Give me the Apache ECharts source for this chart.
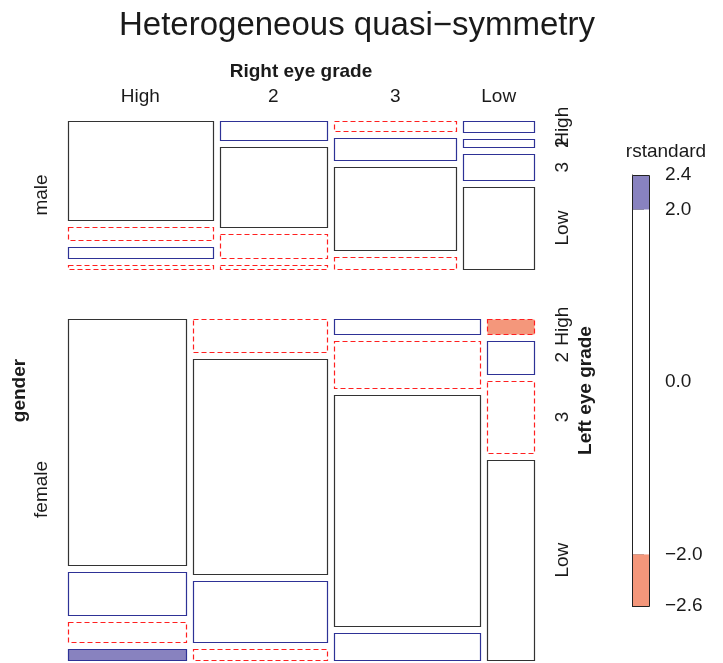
<!DOCTYPE html>
<html>
<head>
<meta charset="utf-8">
<script src="https://cdn.jsdelivr.net/npm/echarts@6/dist/echarts.min.js"></script>
<style>
  html, body { margin: 0; padding: 0; background: #fff; }
  #chart { width: 723px; height: 663px; }
</style>
</head>
<body>
<div id="chart"></div>
<script>
// categories
const rightGrades = ['High', '2', '3', 'Low'];
const leftGrades = ['High', '2', '3', 'Low'];
const genders = ['male', 'female'];

// counts: one row per right eye grade, entries per left eye grade
const maleCounts = [
  [821, 112, 85, 35],
  [116, 494, 145, 27],
  [72, 151, 583, 87],
  [43, 34, 106, 331]
];
const femaleCounts = [
  [1520, 266, 124, 66],
  [234, 1512, 432, 78],
  [117, 362, 1772, 205],
  [36, 82, 179, 492]
];

// standardized residuals
const maleResid = [
  [0, -1.1, 0.9, -1.6],
  [1.1, 0, -0.7, -1.3],
  [-0.9, 0.7, 0, -0.5],
  [1.6, 1.3, 0.5, 0]
];
const femaleResid = [
  [0, 0.8, -1.0, 2.4],
  [-0.8, 0, 0.6, -1.2],
  [1.0, -0.6, 0, 1.1],
  [-2.6, 1.2, -1.1, 0]
];

// legend
const legendBreaks = [-2.6, -2.0, 2.0, 2.4];
const legendTicks = [-2.6, -2.0, 0.0, 2.0, 2.4];

const FONT = 'Liberation Sans, Arial, Helvetica, sans-serif';
const FS = 19;
const TXT = '#1a1a1a';
const BLUE_FILL = '#8882bf';
const RED_FILL = '#f4977b';
const BLUE_LINE = '#2e3296';
const RED_LINE = '#ff2020';
const ZERO_LINE = '#333333';

// mosaic geometry in plot units (1 unit = 1 px of the grid)
const W = 466, H = 539;
const genderGap = 50, colGap = 7, cellGap = 7;

const countsBy = [maleCounts, femaleCounts];
const residBy = [maleResid, femaleResid];
const sum = a => a.reduce((s, v) => s + v, 0);
const genderTotals = countsBy.map(t => sum(t.map(sum)));
const grand = sum(genderTotals);

const cells = [];
const labels = [];
let yStart = 0;
genders.forEach((g, gi) => {
  const gh = (H - genderGap) * genderTotals[gi] / grand;
  const colTotals = countsBy[gi].map(sum);
  let xStart = 0;
  rightGrades.forEach((rg, ri) => {
    const cw = (W - colGap * (rightGrades.length - 1)) * colTotals[ri] / genderTotals[gi];
    let yc = yStart;
    leftGrades.forEach((lg, li) => {
      const ch = (gh - cellGap * (leftGrades.length - 1)) * countsBy[gi][ri][li] / colTotals[ri];
      cells.push([xStart, yc, xStart + cw, yc + ch, residBy[gi][ri][li]]);
      if (ri === rightGrades.length - 1) {
        labels.push({ x: W + 29, y: yc + ch / 2, text: lg, rot: true });
      }
      yc += ch + cellGap;
    });
    if (gi === 0) {
      labels.push({ x: xStart + cw / 2, y: -24, text: rg, rot: false });
    }
    xStart += cw + colGap;
  });
  labels.push({ x: -26, y: yStart + gh / 2, text: g, rot: true });
  yStart += gh + genderGap;
});
labels.push({ x: W / 2, y: -49, text: 'Right eye grade', rot: false, bold: true });
labels.push({ x: -48, y: H / 2, text: 'gender', rot: true, bold: true });
labels.push({ x: W + 52, y: H / 2, text: 'Left eye grade', rot: true, bold: true });

const legendItems = [];
for (let i = 0; i < legendBreaks.length - 1; i++) {
  const mid = (legendBreaks[i] + legendBreaks[i + 1]) / 2;
  legendItems.push([legendBreaks[i], legendBreaks[i + 1], mid]);
}

const crisp = v => Math.round(v) + 0.5;

function cellStyle(r) {
  const fill = r >= 2 ? BLUE_FILL : (r <= -2 ? RED_FILL : 'none');
  if (r > 0) return { fill: fill, stroke: BLUE_LINE, lineWidth: 1.2 };
  if (r < 0) return { fill: fill, stroke: RED_LINE, lineWidth: 1.2, lineDash: [5, 3] };
  return { fill: fill, stroke: ZERO_LINE, lineWidth: 1.2 };
}

const myChart = echarts.init(document.getElementById('chart'));

const option = {
  animation: false,
  backgroundColor: '#fff',
  graphic: [
    {
      type: 'text',
      x: 357,
      y: 26,
      style: {
        text: 'Heterogeneous quasi\u2212symmetry',
        font: '33px ' + FONT, fill: TXT, align: 'center', verticalAlign: 'middle'
      }
    },
    {
      type: 'text',
      x: 666,
      y: 152,
      style: { text: 'rstandard', font: FS + 'px ' + FONT, fill: TXT, align: 'center', verticalAlign: 'middle' }
    }
  ],
  grid: [
    { left: 68, top: 121, width: W, height: H },
    { left: 632, top: 175, width: 17, height: 431 }
  ],
  xAxis: [
    { type: 'value', gridIndex: 0, min: 0, max: W, show: false },
    { type: 'value', gridIndex: 1, min: 0, max: 1, show: false }
  ],
  yAxis: [
    { type: 'value', gridIndex: 0, min: 0, max: H, inverse: true, show: false },
    {
      type: 'value', gridIndex: 1, min: -2.6, max: 2.4, position: 'right',
      splitLine: { show: false },
      axisLine: { show: true, lineStyle: { color: '#222', width: 1 } },
      axisTick: { show: true, length: 12, customValues: legendTicks, lineStyle: { color: '#222' } },
      axisLabel: {
        customValues: legendTicks, margin: 16, fontFamily: FONT, fontSize: FS, color: TXT,
        formatter: v => (v < 0 ? '\u2212' : '') + Math.abs(v).toFixed(1)
      }
    }
  ],
  series: [
    {
      type: 'custom',
      xAxisIndex: 0, yAxisIndex: 0,
      data: cells,
      renderItem: function (params, api) {
        const a = api.coord([api.value(0), api.value(1)]);
        const b = api.coord([api.value(2), api.value(3)]);
        const x0 = crisp(a[0]), x1 = crisp(b[0]);
        const y0 = crisp(a[1]), y1 = crisp(b[1]);
        return {
          type: 'rect',
          shape: { x: x0, y: y0, width: x1 - x0, height: y1 - y0 },
          style: cellStyle(api.value(4))
        };
      }
    },
    {
      type: 'custom',
      xAxisIndex: 0, yAxisIndex: 0,
      clip: false,
      data: labels.map(l => [l.x, l.y]),
      renderItem: function (params, api) {
        const l = labels[params.dataIndex];
        const p = api.coord([api.value(0), api.value(1)]);
        return {
          type: 'text',
          x: p[0], y: p[1],
          rotation: l.rot ? Math.PI / 2 : 0,
          style: {
            text: l.text,
            font: (l.bold ? 'bold ' : '') + FS + 'px ' + FONT,
            fill: TXT,
            align: 'center',
            verticalAlign: 'middle'
          }
        };
      }
    },
    {
      type: 'custom',
      xAxisIndex: 1, yAxisIndex: 1,
      data: legendItems,
      renderItem: function (params, api) {
        const top = api.coord([0, api.value(1)]);
        const bot = api.coord([1, api.value(0)]);
        const mid = api.value(2);
        const fill = mid >= 2 ? BLUE_FILL : (mid <= -2 ? RED_FILL : '#fff');
        return {
          type: 'rect',
          shape: { x: top[0], y: top[1], width: bot[0] - top[0], height: bot[1] - top[1] },
          style: { fill: fill }
        };
      }
    },
    {
      type: 'custom',
      xAxisIndex: 1, yAxisIndex: 1,
      data: [[legendTicks[0], legendTicks[legendTicks.length - 1]]],
      renderItem: function (params, api) {
        const top = api.coord([0, api.value(1)]);
        const bot = api.coord([1, api.value(0)]);
        return {
          type: 'rect',
          shape: { x: crisp(top[0]), y: crisp(top[1]), width: Math.round(bot[0] - top[0]), height: Math.round(bot[1] - top[1]) },
          style: { fill: 'none', stroke: '#222', lineWidth: 1 }
        };
      }
    }
  ]
};

myChart.setOption(option);
</script>
</body>
</html>
